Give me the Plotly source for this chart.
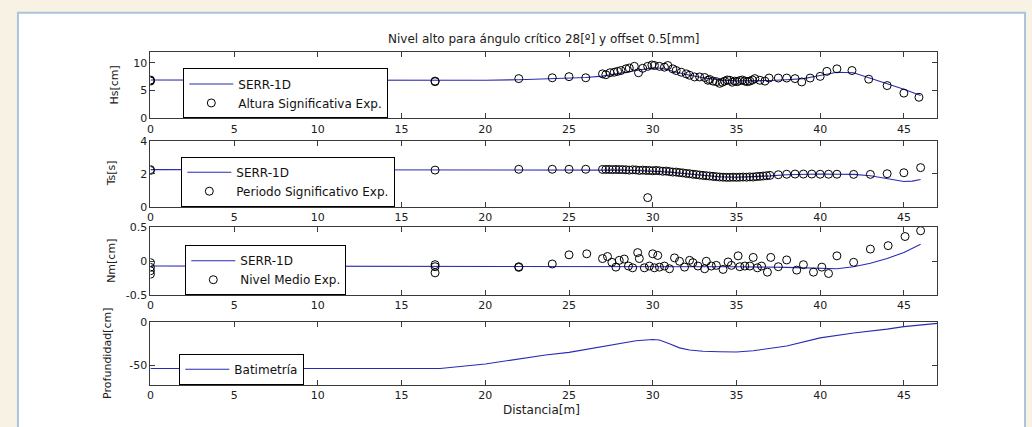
import plotly.graph_objects as go

W, H = 1032, 427

# ---------------- data ----------------
# SERR-1D model (x in m)
mod_hs_x = [0, 13, 13.1, 17, 20, 22, 25, 26, 27, 28, 29, 30, 30.5, 31, 32, 33, 34, 35, 36, 37, 38, 39, 40, 41, 42, 43, 44, 45, 46]
mod_hs_y = [6.9, 6.9, 6.8, 6.8, 6.85, 6.95, 7.2, 7.35, 7.6, 8.1, 8.6, 9.1, 9.0, 8.6, 7.9, 7.3, 6.9, 6.75, 6.75, 6.8, 6.95, 7.15, 7.7, 8.3, 8.2, 7.2, 6.3, 5.25, 4.1]

mod_ts_x = [0, 17, 22, 26, 27, 28, 29, 30, 31, 32, 33, 34, 35, 36, 37, 38, 39, 40, 41, 42, 43, 44, 44.5, 45, 45.5, 46]
mod_ts_y = [2.25, 2.25, 2.25, 2.25, 2.24, 2.22, 2.2, 2.16, 2.1, 2.0, 1.9, 1.82, 1.79, 1.81, 1.87, 1.94, 1.98, 1.98, 1.97, 1.96, 1.88, 1.72, 1.62, 1.53, 1.55, 1.65]

mod_nm_x = [0, 17, 20, 22, 27, 35, 38, 40, 41, 42, 43, 44, 45, 46]
mod_nm_y = [-0.07, -0.07, -0.08, -0.08, -0.08, -0.08, -0.09, -0.11, -0.11, -0.08, -0.03, 0.04, 0.13, 0.25]

bat_x = [0, 17.3, 20, 23.6, 25, 27, 29, 30, 30.4, 31, 31.6, 32.2, 33, 34, 35, 36, 38, 40, 42, 44, 45, 47]
bat_y = [-53.3, -53.3, -48.2, -37.9, -34.9, -28.7, -21.7, -20.2, -20.8, -25.0, -29.8, -32.3, -33.6, -34.2, -34.5, -33.1, -27.6, -18.4, -12.8, -8.4, -5.5, -1.8]

# Experimental data
hs_x = [0, 0, 0, 17, 17, 22, 24, 25, 26, 27.0, 27.2, 27.45, 27.7, 27.9, 28.1, 28.4, 28.6, 28.9, 29.15, 29.4, 29.7, 29.95,
        30.1, 30.4, 30.7, 30.9, 31.2, 31.4, 31.7, 32.0, 32.2, 32.5, 32.8, 33.1, 33.3, 33.4, 33.6, 33.8, 34.0, 34.15, 34.3,
        34.45, 34.6, 34.75, 34.9, 35.05, 35.2, 35.35, 35.5, 35.65, 35.8, 35.95, 36.1, 36.4, 36.7, 36.95, 37.5, 38.0, 38.5,
        38.9, 39.4, 40.0, 40.4, 41.0, 41.9, 42.9, 44.0, 45.0, 45.9]
hs_y = [6.8, 6.9, 6.7, 6.6, 6.7, 7.15, 7.3, 7.5, 7.3, 8.0, 7.85, 8.2, 8.3, 8.45, 8.6, 8.9, 9.05, 9.35, 8.2, 9.0, 9.35, 9.6,
        9.5, 9.35, 9.2, 9.5, 8.9, 8.6, 8.3, 8.0, 7.75, 7.45, 7.45, 7.35, 6.85, 7.0, 6.7, 6.6, 6.3, 6.5, 6.7,
        6.9, 6.85, 6.5, 6.7, 6.6, 6.8, 6.9, 6.7, 6.6, 6.7, 6.9, 7.15, 6.85, 6.7, 7.25, 7.25, 7.25, 7.15,
        6.55, 7.25, 7.55, 8.45, 8.9, 8.6, 7.05, 5.9, 4.55, 3.8]

ts_x = [0, 0, 17, 22, 24, 25, 26, 27.0, 27.2, 27.4, 27.6, 27.8, 28.0, 28.2, 28.4, 28.6, 28.8, 29.0, 29.2, 29.4, 29.6, 29.7,
        29.8, 30.0, 30.2, 30.4, 30.6, 30.8, 31.0, 31.2, 31.4, 31.6, 31.8, 32.0, 32.2, 32.4, 32.6, 32.8, 33.0, 33.2, 33.4,
        33.6, 33.8, 34.0, 34.2, 34.4, 34.6, 34.8, 35.0, 35.2, 35.4, 35.6, 35.8, 36.0, 36.2, 36.4, 36.6, 36.8, 37.0, 37.5,
        38.0, 38.5, 39.0, 39.5, 40.0, 40.5, 41.0, 42.0, 43.0, 44.0, 45.0, 46.0]
ts_y = [2.2, 2.25, 2.22, 2.27, 2.27, 2.27, 2.27, 2.26, 2.26, 2.26, 2.25, 2.26, 2.25, 2.25, 2.24, 2.22, 2.24, 2.23, 2.2, 2.22, 2.2, 0.55,
        2.2, 2.18, 2.2, 2.18, 2.15, 2.16, 2.13, 2.1, 2.1, 2.07, 2.05, 2.02, 2.0, 1.97, 1.95, 1.92, 1.9, 1.88, 1.86,
        1.84, 1.82, 1.8, 1.79, 1.78, 1.78, 1.79, 1.78, 1.79, 1.8, 1.79, 1.81, 1.8, 1.83, 1.84, 1.86, 1.88, 1.9, 1.94,
        1.97, 1.98, 1.98, 1.98, 1.97, 1.97, 1.97, 1.96, 1.96, 2.0, 2.06, 2.37]

nm_x = [0, 0, 0, 0, 17, 17, 17, 22, 22, 24, 25, 26.06, 27.0, 27.3, 27.56, 27.8, 28.0, 28.3, 28.55, 28.8, 29.1, 29.2, 29.5,
        29.8, 30.0, 30.1, 30.3, 30.4, 30.7, 31.0, 31.3, 31.6, 31.9, 32.2, 32.4, 32.7, 33.1, 33.2, 33.5, 33.8, 34.2, 34.5,
        34.7, 35.1, 35.2, 35.5, 35.8, 36.0, 36.25, 36.5, 36.85, 37.05, 37.5, 38.0, 38.6, 39.0, 39.6, 40.1, 40.5, 41.0,
        42.0, 43.0, 44.06, 45.07, 46.0]
nm_y = [-0.02, -0.09, -0.14, -0.19, -0.05, -0.08, -0.17, -0.08, -0.09, -0.04, 0.095, 0.11, 0.04, 0.07, -0.015, -0.086, 0.014, 0.033, -0.07,
        -0.096, 0.128, 0.04, -0.096, -0.07, 0.11, -0.096, 0.086, -0.086, -0.07, -0.11, 0.05, 0.0, -0.086, 0.014, -0.02, -0.07, -0.11,
        0.0, -0.07, -0.06, -0.12, -0.01, -0.06, 0.08, -0.08, -0.07, -0.07, 0.057, -0.096, -0.07, -0.16, 0.057, -0.08, 0.02, -0.13,
        -0.05, -0.16, -0.086, -0.18, 0.08, -0.015, 0.18, 0.23, 0.365, 0.45]

title_text = "Nivel alto para ángulo crítico 28[º] y offset 0.5[mm]"
xlabel = "Distancia[m]"
ylabels = ["Hs[cm]", "Ts[s]", "Nm[cm]", "Profundidad[cm]"]
xticks = [0, 5, 10, 15, 20, 25, 30, 35, 40, 45]
yticks = [[0, 5, 10], [0, 2, 4], [-0.5, 0, 0.5], [-50, 0]]
yticktext = [["0", "5", "10"], ["0", "2", "4"], ["-0.5", "0", "0.5"], ["-50", "0"]]
yranges = [[0, 12], [0, 4], [-0.5, 0.5], [-72, 0]]
exp_names = ["Altura Significativa Exp.", "Periodo Significativo Exp.", "Nivel Medio Exp."]

# ---------------- layout helpers ----------------
def px(x):
    return x / W

def py(y):
    return 1 - y / H

LINE_C = "#2a2ab4"
FONT = "DejaVu Sans, Verdana, sans-serif"
AX_C = "#3a3a3a"
TXT_C = "#202020"

x_dom = [px(147), px(937)]
panels_y = [(47, 116), (139, 207), (228.3, 298.3), (325.7, 390.7)]
legend_pos = [(180, 116), (178, 207), (182, 298.3), (176, 390.7)]

fig = go.Figure()

models = [(mod_hs_x, mod_hs_y), (mod_ts_x, mod_ts_y), (mod_nm_x, mod_nm_y), (bat_x, bat_y)]
exps = [(hs_x, hs_y), (ts_x, ts_y), (nm_x, nm_y)]

for i in range(4):
    xa = "x" if i == 0 else f"x{i+1}"
    ya = "y" if i == 0 else f"y{i+1}"
    lg = "legend" if i == 0 else f"legend{i+1}"
    mx, my = models[i]
    fig.add_trace(go.Scatter(x=mx, y=my, mode="lines", name="SERR-1D" if i < 3 else "Batimetría",
                             line=dict(color=LINE_C, width=1.1), xaxis=xa, yaxis=ya, legend=lg))
    if i < 3:
        ex, ey = exps[i]
        fig.add_trace(go.Scatter(x=ex, y=ey, mode="markers", name=exp_names[i],
                                 marker=dict(symbol="circle-open", size=8, color="black", line=dict(width=1)),
                                 xaxis=xa, yaxis=ya, legend=lg))

layout = dict(
    width=W, height=H,
    margin=dict(l=0, r=0, t=0, b=0),
    paper_bgcolor="#f7f2e4",
    plot_bgcolor="white",
    font=dict(family=FONT, size=11, color=TXT_C),
    showlegend=True,
)

axis_common = dict(showline=True, linecolor=AX_C, linewidth=1, mirror="ticks", ticks="inside",
                   ticklen=5, tickcolor=AX_C, showgrid=False, zeroline=False,
                   tickfont=dict(family=FONT, size=11, color=TXT_C))

for i in range(4):
    xk = "xaxis" if i == 0 else f"xaxis{i+1}"
    yk = "yaxis" if i == 0 else f"yaxis{i+1}"
    y0, y1 = panels_y[i]
    layout[xk] = dict(domain=x_dom, range=[0, 47], tickvals=xticks,
                      anchor="y" if i == 0 else f"y{i+1}", **axis_common)
    layout[yk] = dict(domain=[py(y1), py(y0)], range=yranges[i], tickvals=yticks[i], ticktext=yticktext[i],
                      anchor="x" if i == 0 else f"x{i+1}", **axis_common)
    lk = "legend" if i == 0 else f"legend{i+1}"
    lx, ly = legend_pos[i]
    layout[lk] = dict(x=px(lx), y=py(ly), xanchor="left", yanchor="bottom",
                      bgcolor="white", bordercolor="black", borderwidth=1,
                      font=dict(family=FONT, size=12, color="#111"),
                      tracegroupgap=0, itemwidth=44)

fig.update_layout(**layout)

# frame
fig.add_shape(type="rect", xref="paper", yref="paper", x0=px(14), x1=px(1025), y0=-0.05, y1=py(7),
              fillcolor="white", line=dict(color="#a9c5de", width=2), layer="below")

annotations = [
    dict(text=title_text, x=px(542), y=py(34), xref="paper", yref="paper", showarrow=False,
         xanchor="center", yanchor="middle", font=dict(family=FONT, size=12, color=TXT_C)),
    dict(text=xlabel, x=px(540), y=py(417), xref="paper", yref="paper", showarrow=False,
         xanchor="center", yanchor="middle", font=dict(family=FONT, size=12, color=TXT_C)),
]
ylab_x = [110, 108, 108, 104]
for i, t in enumerate(ylabels):
    y0, y1 = panels_y[i]
    annotations.append(dict(text=t, x=px(ylab_x[i]), y=py((y0 + y1) / 2), xref="paper", yref="paper",
                            showarrow=False, textangle=-90, xanchor="center", yanchor="middle",
                            font=dict(family=FONT, size=11, color=TXT_C)))
fig.update_layout(annotations=annotations)

fig.write_html("out.html")
